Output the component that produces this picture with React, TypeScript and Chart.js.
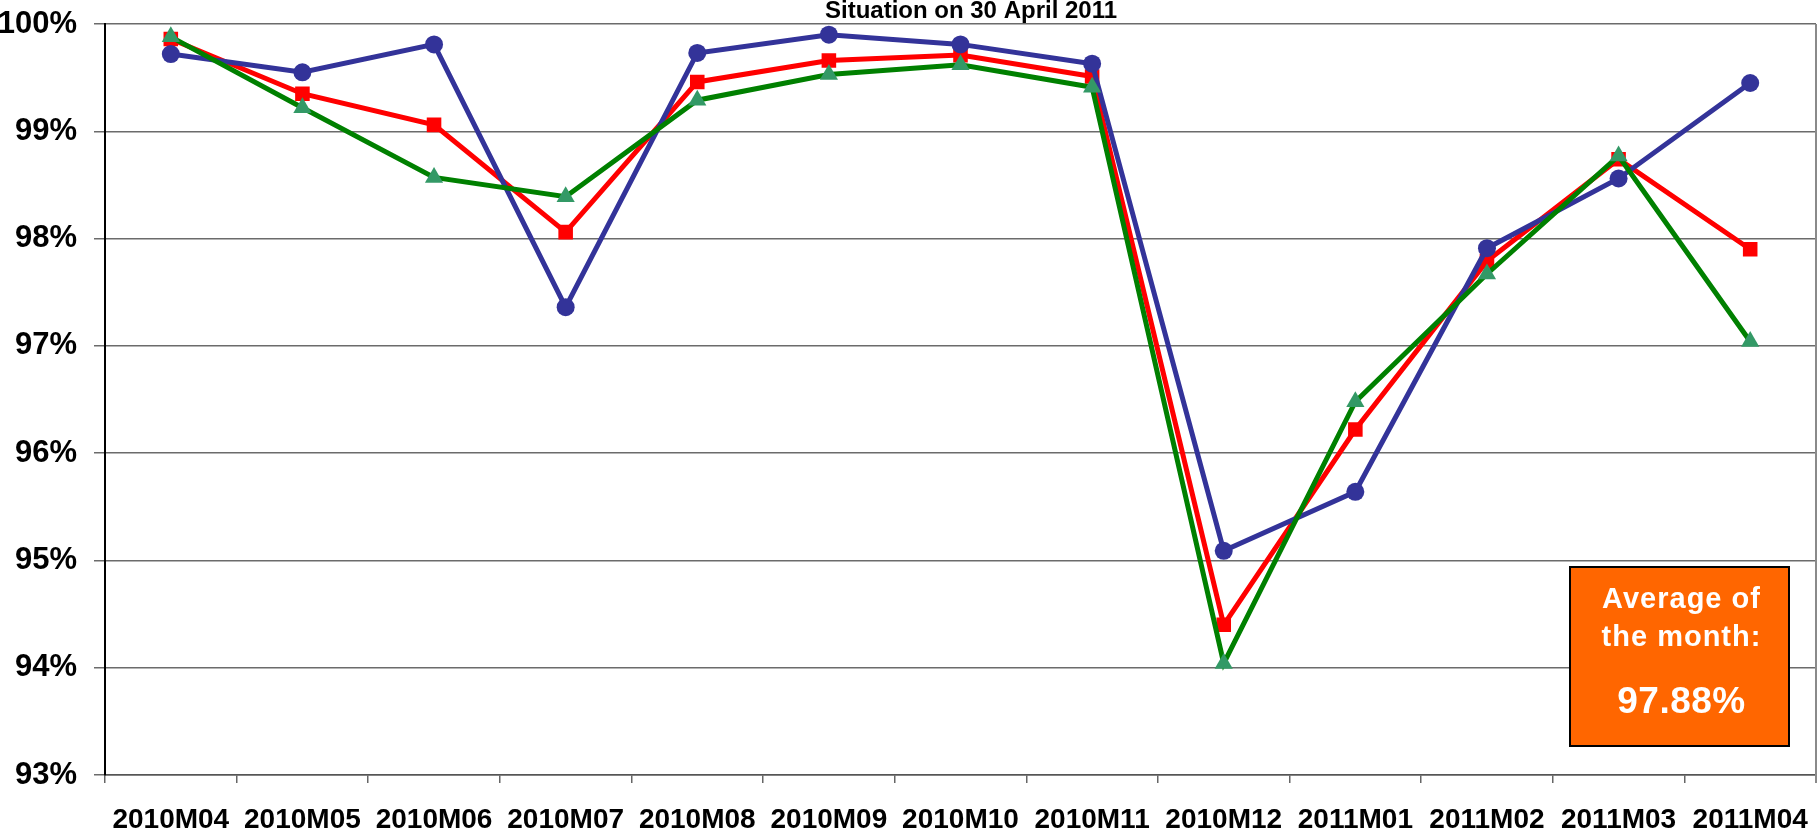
import React, { useEffect, useRef } from 'react';
import { Chart, registerables } from 'chart.js';

Chart.register(...registerables);

const categories = ['2010M04', '2010M05', '2010M06', '2010M07', '2010M08', '2010M09', '2010M10', '2010M11', '2010M12', '2011M01', '2011M02', '2011M03', '2011M04'];
const blueSeries = [99.72, 99.55, 99.81, 97.36, 99.73, 99.9, 99.81, 99.63, 95.09, 95.64, 97.91, 98.56, 99.45];
const redSeries = [99.86, 99.35, 99.06, 98.06, 99.46, 99.66, 99.71, 99.51, 94.4, 96.22, 97.79, 98.74, 97.9];
const greenSeries = [99.88, 99.22, 98.57, 98.39, 99.29, 99.53, 99.62, 99.41, 94.04, 96.48, 97.67, 98.77, 97.04];
const yMin = 93;
const yMax = 100;
const yStep = 1;
const titleText = 'Situation on 30 April 2011';
const boxLines = ['Average of', 'the month:'];
const boxValue = '97.88%';

const FONT = '"Liberation Sans", Arial, sans-serif';

const overlayPlugin = {
  id: 'overlay',
  afterDraw(chart: any) {
    const ctx = chart.ctx;
    const area = chart.chartArea;
    ctx.save();
    // right border
    ctx.strokeStyle = '#8a8a8a';
    ctx.lineWidth = 2;
    ctx.beginPath();
    ctx.moveTo(area.right, area.top);
    ctx.lineTo(area.right, area.bottom + 8);
    ctx.stroke();
    // title
    ctx.fillStyle = '#000';
    ctx.font = `bold 24px ${FONT}`;
    ctx.textAlign = 'center';
    ctx.textBaseline = 'alphabetic';
    ctx.fillText(titleText, 971, 18);
    // orange box
    const bx = 1570, by = 567, bw = 219, bh = 179;
    ctx.fillStyle = '#FF6600';
    ctx.fillRect(bx, by, bw, bh);
    ctx.strokeStyle = '#000';
    ctx.lineWidth = 2;
    ctx.strokeRect(bx, by, bw, bh);
    ctx.fillStyle = '#fff';
    ctx.font = `bold 29px ${FONT}`;
    try { (ctx as any).letterSpacing = '1px'; } catch (e) {}
    const cx = bx + bw / 2 + 2;
    ctx.fillText(boxLines[0], cx, 608);
    ctx.fillText(boxLines[1], cx, 646);
    try { (ctx as any).letterSpacing = '0.5px'; } catch (e) {}
    ctx.font = `bold 37px ${FONT}`;
    ctx.fillText(boxValue, cx, 713);
    ctx.restore();
  },
};

export default function App() {
  const canvasRef = useRef<HTMLCanvasElement | null>(null);

  useEffect(() => {
    if (!canvasRef.current) return;
    const chart = new Chart(canvasRef.current, {
      type: 'line',
      data: {
        labels: categories,
        datasets: [
          {
            label: 'Green',
            data: greenSeries,
            borderColor: '#008000',
            backgroundColor: '#339966',
            borderWidth: 5,
            pointStyle: 'triangle',
            pointRadius: 10.5,
            pointBorderWidth: 0,
            pointBackgroundColor: '#339966',
            tension: 0,
            order: 0,
          },
          {
            label: 'Blue',
            data: blueSeries,
            borderColor: '#333399',
            backgroundColor: '#333399',
            borderWidth: 5,
            pointStyle: 'circle',
            pointRadius: 9,
            pointBorderWidth: 0,
            pointBackgroundColor: '#333399',
            tension: 0,
            order: 1,
          },
          {
            label: 'Red',
            data: redSeries,
            borderColor: '#FF0000',
            backgroundColor: '#FF0000',
            borderWidth: 5,
            pointStyle: 'rect',
            pointRadius: 10.3,
            pointBorderWidth: 0,
            pointBackgroundColor: '#FF0000',
            tension: 0,
            order: 2,
          },
        ],
      },
      options: {
        responsive: false,
        animation: false,
        devicePixelRatio: 1,
        layout: { autoPadding: false, padding: { top: 24, right: 3, left: 0, bottom: 0 } },
        plugins: {
          legend: { display: false },
          tooltip: { enabled: false },
          title: { display: false },
        },
        scales: {
          x: {
            type: 'category',
            offset: true,
            grid: {
              drawOnChartArea: false,
              drawTicks: true,
              tickLength: 8,
              color: '#666',
              lineWidth: 1.5,
              offset: true,
            },
            border: { display: true, color: '#555', width: 1.5 },
            ticks: {
              color: '#000',
              padding: 20,
              maxRotation: 0,
              autoSkip: false,
              font: { family: FONT, size: 28, weight: 'bold' },
            },
            afterFit(scale: any) {
              scale.height = 53;
              scale.paddingLeft = 0;
              scale.paddingRight = 0;
            },
          },
          y: {
            min: yMin,
            max: yMax,
            ticks: {
              stepSize: yStep,
              color: '#000',
              padding: 17,
              font: { family: FONT, size: 31, weight: 'bold' },
              callback: (v: any) => `${v}%`,
            },
            grid: {
              color: '#6b6b6b',
              lineWidth: 1.5,
              tickLength: 11,
              drawTicks: true,
            },
            border: { display: true, color: '#000', width: 2 },
            afterFit(scale: any) {
              scale.width = 105;
              scale.paddingTop = 0;
              scale.paddingBottom = 0;
            },
          },
        },
      },
      plugins: [overlayPlugin],
    } as any);
    return () => chart.destroy();
  }, []);

  return (
    <div style={{ position: 'absolute', left: 0, top: 0, width: 1819, height: 828, background: '#fff' }}>
      <canvas ref={canvasRef} width={1819} height={828} style={{ display: 'block' }} />
    </div>
  );
}
